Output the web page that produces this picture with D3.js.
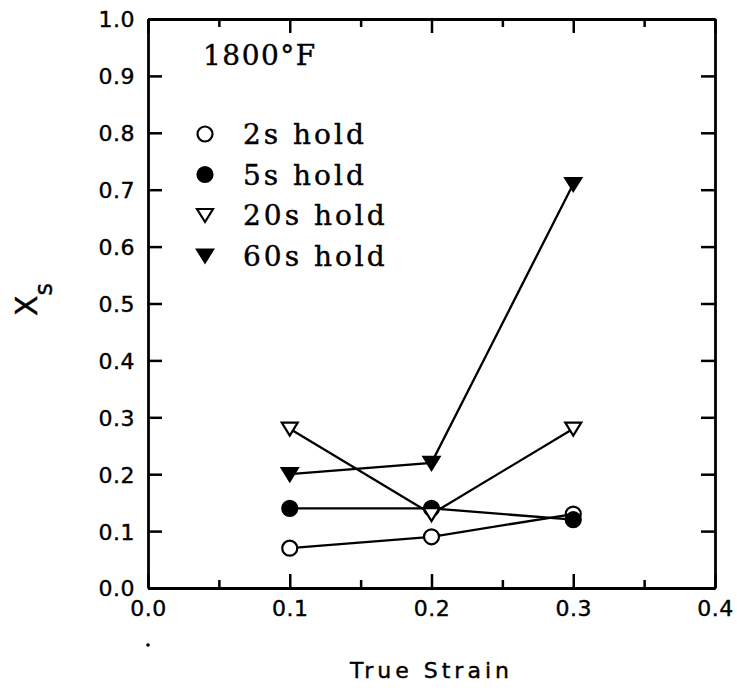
<!DOCTYPE html>
<html>
<head>
<meta charset="utf-8">
<script src="https://cdn.jsdelivr.net/npm/d3@7"></script>
<style>
  body { margin: 0; background: #fff; }
  svg { display: block; }
  text { stroke: #000; stroke-width: 0.4px; }
</style>
</head>
<body>
<svg id="chart" width="737" height="696"></svg>
<script>
// strain values, one per point
const strain = [0.1, 0.2, 0.3];
// X_s for each hold time
const hold2s = [0.07, 0.09, 0.13];
const hold5s = [0.14, 0.14, 0.12];
const hold20s = [0.28, 0.13, 0.28];
const hold60s = [0.20, 0.22, 0.71];
const seriesNames = ["2s hold", "5s hold", "20s hold", "60s hold"];
const xTicks = [0.0, 0.1, 0.2, 0.3, 0.4];
const yTicks = [0.0, 0.1, 0.2, 0.3, 0.4, 0.5, 0.6, 0.7, 0.8, 0.9, 1.0];

const series = [
  { name: seriesNames[0], values: hold2s, shape: "circle", fill: "#fff" },
  { name: seriesNames[1], values: hold5s, shape: "circle", fill: "#000" },
  { name: seriesNames[2], values: hold20s, shape: "tri", fill: "#fff" },
  { name: seriesNames[3], values: hold60s, shape: "tri", fill: "#000" }
];

const svg = d3.select("#chart");
const margin = { left: 148, right: 22, top: 19, bottom: 108 };
const W = 737, H = 696;
const x = d3.scaleLinear().domain([0, 0.4]).range([margin.left, W - margin.right]);
const y = d3.scaleLinear().domain([0, 1]).range([H - margin.bottom, margin.top]);

const sans = "'DejaVu Sans', sans-serif";
const serif = "'DejaVu Serif', serif";

// mirrored axes, ticks inward
function axisG(axis, tx, ty) {
  const g = svg.append("g").attr("transform", `translate(${tx},${ty})`).call(axis);
  g.select(".domain").attr("stroke-width", 2.8).attr("stroke", "#000");
  g.selectAll(".tick line").attr("stroke-width", 2.5).attr("stroke", "#000");
  return g;
}
const xMinor = d3.range(0, 0.401, 0.05).filter((d, i) => i % 2);
const x0 = y(0), x1 = y(1);

// bottom: major ticks with labels, minor ticks
const gb = axisG(d3.axisBottom(x).tickValues(xTicks).tickSize(-14).tickSizeOuter(0)
  .tickFormat(d3.format(".1f")), 0, x0);
gb.selectAll("text").attr("font-family", sans).attr("font-size", 22)
  .attr("letter-spacing", 0.5).attr("y", 12).attr("dy", "0.71em");
axisG(d3.axisBottom(x).tickValues(xMinor).tickSize(-8).tickSizeOuter(0).tickFormat(""), 0, x0);
// top
axisG(d3.axisTop(x).tickValues(xTicks).tickSize(-14).tickSizeOuter(0).tickFormat(""), 0, x1);
axisG(d3.axisTop(x).tickValues(xMinor).tickSize(-8).tickSizeOuter(0).tickFormat(""), 0, x1);
// left
const gl = axisG(d3.axisLeft(y).tickValues(yTicks).tickSize(-14).tickSizeOuter(0)
  .tickFormat(d3.format(".1f")), x(0), 0);
gl.selectAll("text").attr("font-family", sans).attr("font-size", 22)
  .attr("letter-spacing", 0.5).attr("x", -13).attr("dy", "0.36em");
// right
axisG(d3.axisRight(y).tickValues(yTicks).tickSize(-14).tickSizeOuter(0).tickFormat(""), x(0.4), 0);

// marker paths
function markerPath(shape) {
  if (shape === "circle") return d3.symbol().type(d3.symbolCircle).size(Math.PI * 7.5 * 7.5)();
  return "M-8,-6L8,-6L0,7Z";
}

const line = d3.line().x(d => x(d[0])).y(d => y(d[1]));
const plot = svg.append("g");
series.forEach(s => {
  const pts = strain.map((v, i) => [v, s.values[i]]);
  plot.append("path").attr("d", line(pts)).attr("fill", "none")
    .attr("stroke", "#000").attr("stroke-width", 2.3);
});
series.forEach(s => {
  const pts = strain.map((v, i) => [v, s.values[i]]);
  plot.selectAll(null).data(pts).enter().append("path")
    .attr("d", markerPath(s.shape))
    .attr("transform", d => `translate(${x(d[0])},${y(d[1])})`)
    .attr("fill", s.fill).attr("stroke", "#000").attr("stroke-width", 2.2);
});

// title and legend
svg.append("text").attr("x", 203).attr("y", 65).attr("font-family", serif)
  .attr("font-size", 28).attr("letter-spacing", 1.5).text("1800°F");
const leg = svg.append("g");
series.forEach((s, i) => {
  const ly = 134 + i * 40.5;
  leg.append("path").attr("d", markerPath(s.shape))
    .attr("transform", `translate(205,${ly})`)
    .attr("fill", s.fill).attr("stroke", "#000").attr("stroke-width", 2.2);
  leg.append("text").attr("x", 243).attr("y", ly + 10).attr("font-family", serif)
    .attr("font-size", 28).attr("letter-spacing", 3).text(s.name);
});

// axis titles
svg.append("text").attr("x", (x(0) + x(0.4)) / 2).attr("y", 678).attr("text-anchor", "middle")
  .attr("font-family", sans).attr("font-size", 22).attr("letter-spacing", 4).text("True Strain");
const yl = svg.append("text").attr("transform", "translate(37,316) rotate(-90)")
  .attr("font-family", sans).attr("font-size", 30);
yl.append("tspan").text("X");
yl.append("tspan").attr("font-size", 24).attr("dy", 15).text("s");

// stray dot below the origin
svg.append("circle").attr("cx", x(0)).attr("cy", 645).attr("r", 1.8).attr("fill", "#000");
</script>
</body>
</html>
